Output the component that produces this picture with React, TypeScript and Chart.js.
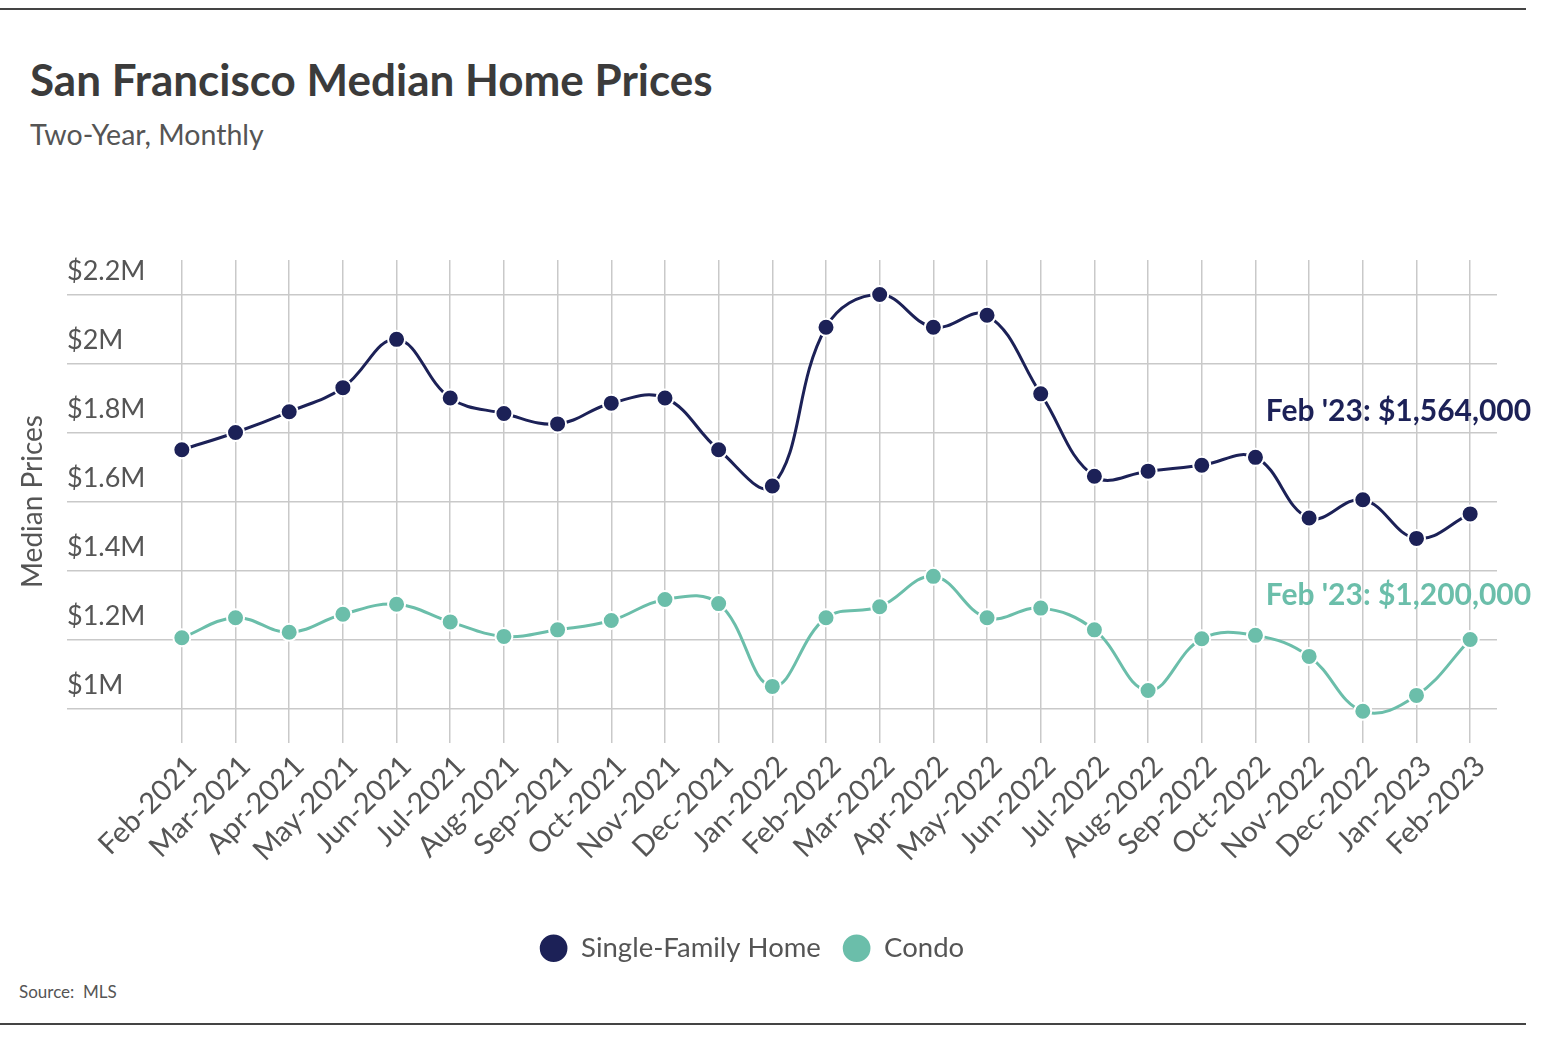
import React, { useEffect, useRef } from "react";
import { Chart, registerables } from "chart.js";

Chart.register(...registerables);

// ---------- data ----------
const months = [
  "Feb-2021", "Mar-2021", "Apr-2021", "May-2021", "Jun-2021", "Jul-2021",
  "Aug-2021", "Sep-2021", "Oct-2021", "Nov-2021", "Dec-2021", "Jan-2022",
  "Feb-2022", "Mar-2022", "Apr-2022", "May-2022", "Jun-2022", "Jul-2022",
  "Aug-2022", "Sep-2022", "Oct-2022", "Nov-2022", "Dec-2022", "Jan-2023",
  "Feb-2023",
];

const singleFamily = [
  1750000, 1800000, 1860000, 1930000, 2070000, 1900000, 1855000, 1825000,
  1885000, 1900000, 1750000, 1645000, 2105000, 2200000, 2105000, 2140000,
  1912000, 1673000, 1688000, 1705000, 1728000, 1552000, 1605000, 1493000,
  1564000,
];

const condo = [
  1205000, 1263000, 1221000, 1273000, 1302000, 1251000, 1209000, 1228000,
  1255000, 1316000, 1304000, 1064000, 1263000, 1295000, 1383000, 1263000,
  1291000, 1228000, 1052000, 1202000, 1212000, 1151000, 992000, 1038000,
  1200000,
];

const seriesNames = ["Single-Family Home", "Condo"];
const yTickValues = [1000000, 1200000, 1400000, 1600000, 1800000, 2000000, 2200000];
const yRange = [900000, 2300000];
const endLabelPrefix = "Feb '23: ";

const titleText = "San Francisco Median Home Prices";
const subtitleText = "Two-Year, Monthly";
const yAxisTitle = "Median Prices";
const sourceText = "Source:  MLS";

// ---------- styles ----------
const NAVY = "#1c2157";
const TEAL = "#6bbeaa";
const GRID = "#c9c9c9";
const TEXT = "#555555";
const FONT = "Lato, 'Open Sans', sans-serif";

const fmtMillions = (v: number) => `$${Number((v / 1e6).toFixed(1))}M`;
const fmtDollars = (v: number) => `$${v.toLocaleString("en-US")}`;

const overlayPlugin = {
  id: "overlayText",
  afterLayout(chart: any) {
    // nudge legend to the left to match the reference centering
    if (chart.legend) {
      chart.legend.left -= 30;
      chart.legend.right -= 30;
    }
  },
  afterDatasetsDraw(chart: any) {
    const { ctx, scales } = chart;
    const xs = scales.x;
    const ys = scales.y;
    ctx.save();
    // end-of-series labels
    const last = months.length - 1;
    const lx = xs.getPixelForValue(last) + 61;
    const specs = [
      { v: singleFamily[last], color: NAVY, dy: -103 },
      { v: condo[last], color: TEAL, dy: -44 },
    ];
    ctx.font = `bold 30px ${FONT}`;
    ctx.textAlign = "right";
    ctx.textBaseline = "middle";
    specs.forEach((s) => {
      ctx.fillStyle = s.color;
      ctx.fillText(endLabelPrefix + fmtDollars(s.v), lx, ys.getPixelForValue(s.v) + s.dy);
    });
    // y axis title
    ctx.translate(33, (ys.top + ys.bottom) / 2);
    ctx.rotate(-Math.PI / 2);
    ctx.textAlign = "center";
    ctx.fillStyle = TEXT;
    ctx.font = `28px ${FONT}`;
    ctx.fillText(yAxisTitle, 0, 0);
    ctx.restore();
  },
};

export default function App() {
  const canvasRef = useRef<HTMLCanvasElement | null>(null);

  useEffect(() => {
    document.body.style.margin = "0";
    const canvas = canvasRef.current;
    if (!canvas) return;
    const mkDataset = (label: string, data: number[], color: string) => ({
      label,
      data,
      borderColor: color,
      backgroundColor: color,
      borderWidth: 3,
      tension: 0.4,
      pointRadius: 8.5,
      pointBorderWidth: 2,
      pointBorderColor: "#ffffff",
      pointBackgroundColor: color,
      pointStyle: "circle",
      fill: false,
    });

    const chart = new Chart(canvas, {
      type: "line",
      data: {
        labels: months,
        datasets: [
          mkDataset(seriesNames[0], singleFamily, NAVY),
          mkDataset(seriesNames[1], condo, TEAL),
        ],
      },
      plugins: [overlayPlugin],
      options: {
        animation: false,
        responsive: true,
        maintainAspectRatio: false,
        layout: { padding: { top: 260, left: 67, right: 45, bottom: 70 } },
        plugins: {
          title: { display: false },
          tooltip: { enabled: false },
          legend: {
            display: true,
            position: "bottom",
            labels: {
              usePointStyle: true,
              pointStyle: "circle",
              boxWidth: 28,
              boxHeight: 21,
              padding: 22,
              color: TEXT,
              font: { family: FONT, size: 27.5 },
            },
          },
        },
        scales: {
          x: {
            type: "category",
            offset: true,
            border: { display: false },
            grid: { color: GRID, lineWidth: 1.5, drawTicks: false, offset: false },
            ticks: {
              autoSkip: false,
              maxRotation: 45,
              minRotation: 45,
              padding: 6,
              labelOffset: 10,
              color: TEXT,
              font: { family: FONT, size: 29 },
            },
            afterFit: (scale: any) => {
              scale.height = 169.5;
            },
          },
          y: {
            type: "linear",
            min: yRange[0],
            max: yRange[1],
            border: { display: false },
            grid: { color: GRID, lineWidth: 1.5, drawTicks: true, tickLength: 88, tickColor: GRID },
            ticks: {
              crossAlign: "far",
              padding: 0,
              labelOffset: -23,
              color: TEXT,
              font: { family: FONT, size: 27 },
              callback: (v: any) => fmtMillions(Number(v)),
            },
            afterBuildTicks: (scale: any) => {
              scale.ticks = yTickValues.map((v) => ({ value: v }));
            },
            afterFit: (scale: any) => {
              scale.width = 88;
            },
          },
        },
      },
    });
    return () => chart.destroy();
  }, []);

  return (
    <div style={{ position: "absolute", left: 0, top: 0, width: 1542, height: 1042, background: "#fff", fontFamily: FONT }}>
      <div style={{ position: "absolute", left: 0, top: 8, width: 1526, height: 2, background: "#444" }} />
      <div style={{ position: "absolute", left: 0, top: 1023, width: 1526, height: 2, background: "#444" }} />
      <div style={{ position: "absolute", left: 30, top: 57, fontSize: 44, fontWeight: 700, color: "#3b3b3b", lineHeight: 1, whiteSpace: "nowrap" }}>
        {titleText}
      </div>
      <div style={{ position: "absolute", left: 30, top: 120, fontSize: 28.5, color: TEXT, lineHeight: 1, whiteSpace: "nowrap" }}>
        {subtitleText}
      </div>
      <div style={{ position: "absolute", left: 19, top: 983, fontSize: 17, color: TEXT, lineHeight: 1, whiteSpace: "pre" }}>
        {sourceText}
      </div>
      <div style={{ position: "absolute", left: 0, top: 0, width: 1542, height: 1042 }}>
        <canvas ref={canvasRef} />
      </div>
    </div>
  );
}
